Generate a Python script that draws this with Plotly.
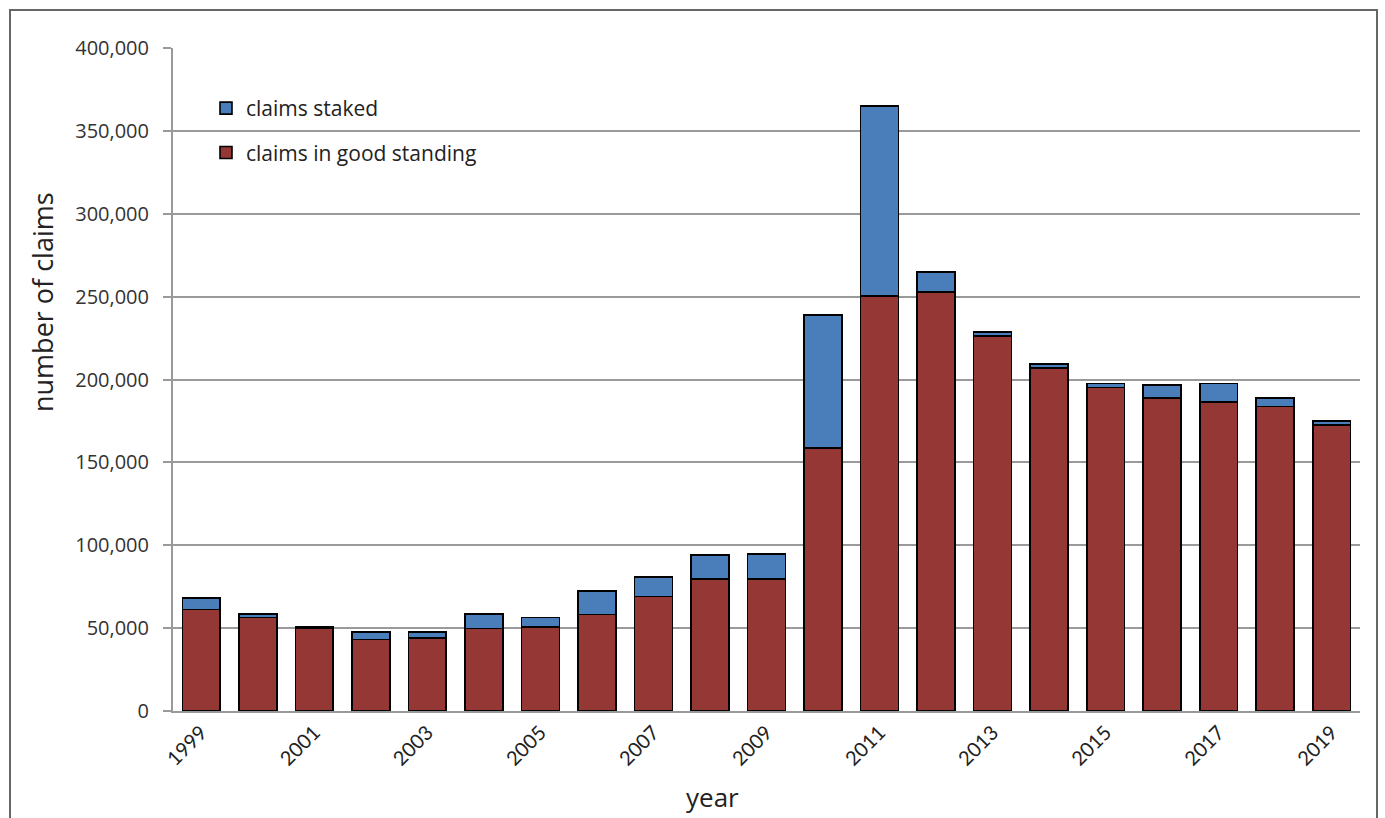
import plotly.graph_objects as go

# Mineral claims by year
years = [str(y) for y in range(1999, 2020)]
claims_total = [68.0, 58.5, 50.9, 47.5, 47.5, 58.5, 56.3, 72.4, 80.8, 94.1, 94.9,
                238.9, 365.0, 264.8, 228.8, 209.4, 197.5, 196.7, 197.7, 189.0, 175.0]
claims_good_standing = [61.3, 56.3, 50.0, 43.2, 44.2, 49.7, 50.7, 58.3, 69.0, 79.8, 79.8,
                        158.7, 250.4, 252.7, 226.4, 206.9, 195.1, 189.0, 186.6, 183.6, 172.6]
# thousands -> claims
good_standing = [round(v * 1000) for v in claims_good_standing]
staked = [round((t - g) * 1000) for t, g in zip(claims_total, claims_good_standing)]

y_ticks = [0, 50000, 100000, 150000, 200000, 250000, 300000, 350000, 400000]
x_ticks = [str(y) for y in range(1999, 2020, 2)]

RED = "#953735"
BLUE = "#4A7EBB"
TEXT = "#222222"

fig = go.Figure()
fig.add_trace(go.Bar(
    x=years, y=good_standing, name="claims in good standing",
    marker=dict(color=RED, line=dict(color="#000000", width=1.6)),
    legendgroup="g", legendrank=2, hoverinfo="x+y",
))
fig.add_trace(go.Bar(
    x=years, y=staked, name="claims staked",
    marker=dict(color=BLUE, line=dict(color="#000000", width=1.6)),
    legendgroup="s", legendrank=1, hoverinfo="x+y",
))

L, R, T, B = 173, 1360, 48, 711
W, H = 1385, 818
pw, ph = R - L, B - T

def px_to_paper_x(px):
    return (px - L) / pw

def px_to_paper_y(py):
    return (B - py) / ph

fig.update_layout(
    width=W, height=H,
    margin=dict(l=L, r=W - R, t=T, b=H - B),
    paper_bgcolor="white", plot_bgcolor="white",
    barmode="stack", bargap=0.33,
    showlegend=True,
    legend=dict(
        x=px_to_paper_x(206), y=px_to_paper_y(88), xanchor="left", yanchor="top",
        traceorder="grouped", tracegroupgap=14,
        font=dict(family="Open Sans", size=21, color=TEXT),
        bgcolor="rgba(0,0,0,0)", itemwidth=30,
    ),
    xaxis=dict(
        type="category", tickmode="array", tickvals=x_ticks, ticktext=x_ticks,
        tickangle=-45, tickfont=dict(family="Lato", size=20, color=TEXT),
        showgrid=False, showline=True, linecolor="#9a9a9a", linewidth=2,
        ticks="",
    ),
    yaxis=dict(
        range=[0, 400000], tickmode="array", tickvals=y_ticks,
        tickformat=",d", tickfont=dict(family="Open Sans", size=20, color="#333333"),
        showgrid=True, gridcolor="#9a9a9a", gridwidth=2,
        showline=True, linecolor="#9a9a9a", linewidth=2,
        ticks="outside", ticklen=8, tickcolor="#9a9a9a", tickwidth=2,
        ticklabelstandoff=10, zeroline=False,
    ),
    annotations=[
        dict(text="number of claims", xref="paper", yref="paper",
             x=px_to_paper_x(42), y=px_to_paper_y(302), textangle=-90,
             showarrow=False, xanchor="center", yanchor="middle",
             font=dict(family="Open Sans", size=27, color=TEXT)),
        dict(text="year", xref="paper", yref="paper",
             x=px_to_paper_x(712), y=px_to_paper_y(797),
             showarrow=False, xanchor="center", yanchor="middle",
             font=dict(family="Open Sans", size=26, color=TEXT)),
    ],
    shapes=[dict(
        type="rect", xref="paper", yref="paper",
        x0=px_to_paper_x(10), x1=px_to_paper_x(1377),
        y0=px_to_paper_y(830), y1=px_to_paper_y(10),
        line=dict(color="#666666", width=2), fillcolor="rgba(0,0,0,0)", layer="below",
    )],
)

fig.write_html("out.html")
